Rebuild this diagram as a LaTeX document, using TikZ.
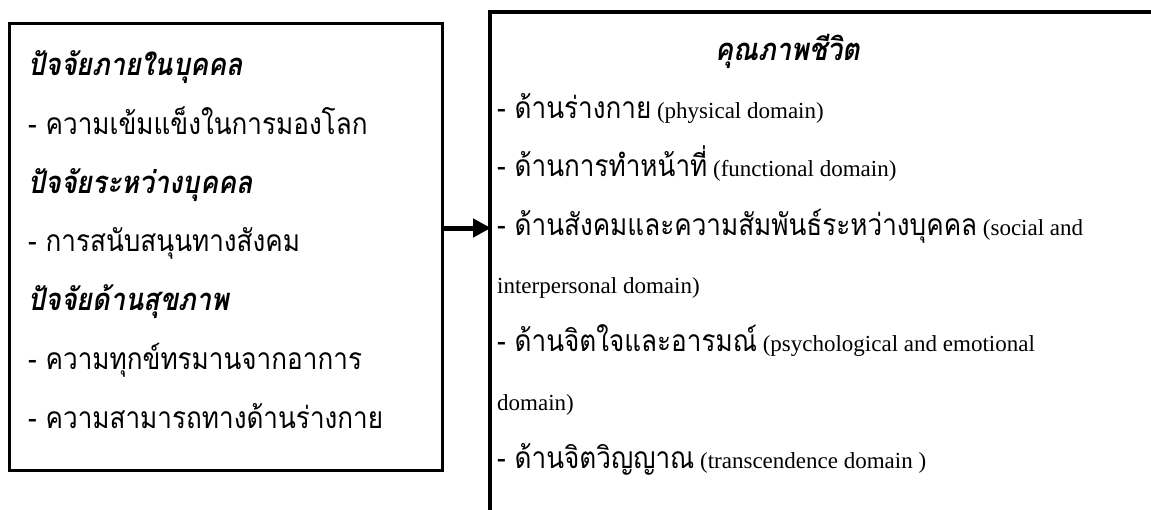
\documentclass[tikz,border=0pt]{standalone}
\usepackage{fontspec}
\setmainfont{Liberation Serif}
\newfontfamily\thaifont[Script=Thai, FakeStretch=0.87]{Loma}
\newcommand\tht[1]{{\thaifont\fontsize{30}{30}\selectfont #1}}
\newcommand\thh[1]{{\thaifont\fontsize{31}{31}\selectfont\bfseries\itshape #1}}
\usetikzlibrary{arrows.meta}
\tikzset{
  boxl/.style={draw, line width=3pt, inner sep=0pt, outer sep=0pt, anchor=north west},
  boxr/.style={draw, line width=4pt, inner sep=0pt, outer sep=0pt, anchor=north west},
  txt/.style={anchor=base west, inner sep=0pt, font=\fontsize{23}{23}\selectfont},
  arr/.style={line width=5pt, -{Triangle[length=18pt,width=18pt]}, shorten >=-1pt}
}
\begin{document}
\begin{tikzpicture}[x=1pt,y=-1pt]
\useasboundingbox (0,0) rectangle (1151,509);
\fill[white] (0,0) rectangle (1151,509);
% boxes
\node[boxl, minimum width=433pt, minimum height=447pt] (lbox) at (9,23) {};
\node[boxr, minimum width=800pt, minimum height=600pt] (rbox) at (490,12) {};
% left texts
\node[txt] (l1) at (28,75)  {\thh{ปัจจัยภายในบุคคล}};
\node[txt] (l2) at (28,134) {\tht{- ความเข้มแข็งในการมองโลก}};
\node[txt] (l3) at (28,193) {\thh{ปัจจัยระหว่างบุคคล}};
\node[txt] (l4) at (28,251) {\tht{- การสนับสนุนทางสังคม}};
\node[txt] (l5) at (28,310) {\thh{ปัจจัยด้านสุขภาพ}};
\node[txt] (l6) at (28,369) {\tht{- ความทุกข์ทรมานจากอาการ}};
\node[txt] (l7) at (28,428) {\tht{- ความสามารถทางด้านร่างกาย}};
% right texts
\node[txt, anchor=base] (r0) at (788,60) {\thh{คุณภาพชีวิต}};
\node[txt] (r1) at (497,118) {\tht{- ด้านร่างกาย} (physical domain)};
\node[txt] (r2) at (497,176) {\tht{- ด้านการทำหน้าที่} (functional domain)};
\node[txt] (r3) at (497,235) {\tht{- ด้านสังคมและความสัมพันธ์ระหว่างบุคคล} (social and};
\node[txt] (r4) at (497,293) {interpersonal domain)};
\node[txt] (r5) at (497,351) {\tht{- ด้านจิตใจและอารมณ์} (psychological and emotional};
\node[txt] (r6) at (497,410) {domain)};
\node[txt] (r7) at (497,468) {\tht{- ด้านจิตวิญญาณ} (transcendence domain )};
% arrow
\coordinate (ay) at (0,228);
\draw[arr] (lbox.east |- ay) -- (rbox.west |- ay);
\end{tikzpicture}
\end{document}
